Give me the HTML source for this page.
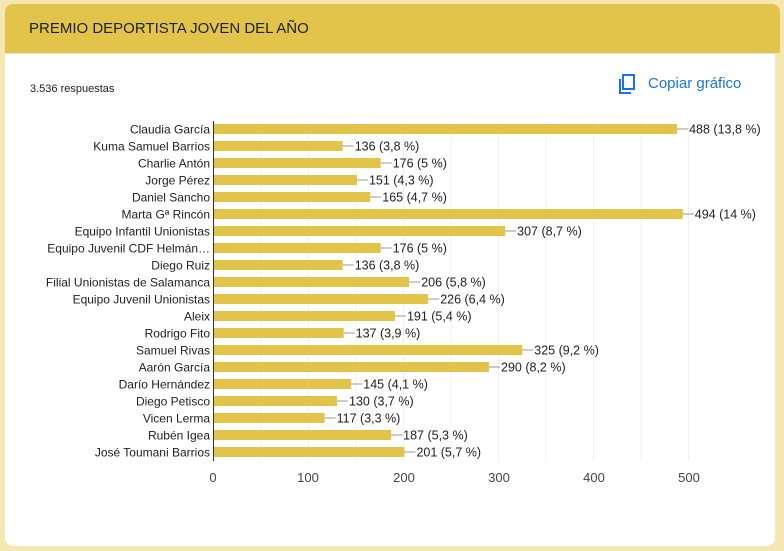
<!DOCTYPE html>
<html><head><meta charset="utf-8"><style>
body{margin:0;width:784px;height:551px;background:#f5e7b2;font-family:"Liberation Sans",Arial,sans-serif;overflow:hidden;position:relative}
.hdr{position:absolute;left:5px;top:4px;width:775px;height:49px;background:#e2c44a;border-radius:8px 8px 0 0}
.hdr span{position:absolute;left:24px;top:16px;font-size:15px;color:#202124}
.card{position:absolute;left:5px;top:53px;width:770px;height:492px;background:#fff;border-radius:0 0 8px 8px;border-top:1px solid #e0e0e0}
</style></head><body>
<div class="hdr"><span>PREMIO DEPORTISTA JOVEN DEL AÑO</span></div>
<div class="card"></div>
<svg width="784" height="551" style="position:absolute;left:0;top:0" font-family="Liberation Sans, Arial, sans-serif">
<text x="30" y="92" font-size="11" fill="#202124">3.536 respuestas</text>
<g fill="none" stroke="#1a73e8" stroke-width="2"><rect x="623" y="75" width="11" height="14"/><path d="M620 79 v14 h11"/></g>
<text x="648" y="88" font-size="15" fill="#1a73e8">Copiar gráfico</text>
<g id="grid" stroke="#f0f0f0" stroke-width="1"></g>
<g id="bars"></g>
<line x1="213.5" y1="121" x2="213.5" y2="461" stroke="#333"/>
<g font-size="13" fill="#444" text-anchor="middle">
<text x="213" y="482">0</text><text x="308" y="482">100</text><text x="404" y="482">200</text><text x="499" y="482">300</text><text x="594" y="482">400</text><text x="689" y="482">500</text>
</g>
</svg>
<script>
const d=[["Claudia García",488,"13,8"],["Kuma Samuel Barrios",136,"3,8"],["Charlie Antón",176,"5"],["Jorge Pérez",151,"4,3"],["Daniel Sancho",165,"4,7"],["Marta Gª Rincón",494,"14"],["Equipo Infantil Unionistas",307,"8,7"],["Equipo Juvenil CDF Helmán…",176,"5"],["Diego Ruiz",136,"3,8"],["Filial Unionistas de Salamanca",206,"5,8"],["Equipo Juvenil Unionistas",226,"6,4"],["Aleix",191,"5,4"],["Rodrigo Fito",137,"3,9"],["Samuel Rivas",325,"9,2"],["Aarón García",290,"8,2"],["Darío Hernández",145,"4,1"],["Diego Petisco",130,"3,7"],["Vicen Lerma",117,"3,3"],["Rubén Igea",187,"5,3"],["José Toumani Barrios",201,"5,7"]];
const ns="http://www.w3.org/2000/svg",s=0.95,x0=213.5;
let g=document.getElementById("grid"),b=document.getElementById("bars");
function el(t,a,p,txt){let e=document.createElementNS(ns,t);for(let k in a)e.setAttribute(k,a[k]);if(txt)e.textContent=txt;p.appendChild(e);return e}
for(let v=50;v<=500;v+=50)el("line",{x1:x0+v*s,x2:x0+v*s,y1:121,y2:461},g);
d.forEach((r,i)=>{let c=129+i*17,w=r[1]*s;
el("rect",{x:x0,y:c-5,width:w,height:10,fill:"#e2c44a"},b);
el("line",{x1:x0+w,x2:x0+w+11,y1:c,y2:c,stroke:"#999"},b);
el("text",{x:x0+w+12,y:c+4.5,"font-size":"12.5",fill:"#222"},b,r[1]+" ("+r[2]+" %)");
el("text",{x:210,y:c+4.5,"font-size":"12",fill:"#222","text-anchor":"end"},b,r[0]);});
</script>
</body></html>
